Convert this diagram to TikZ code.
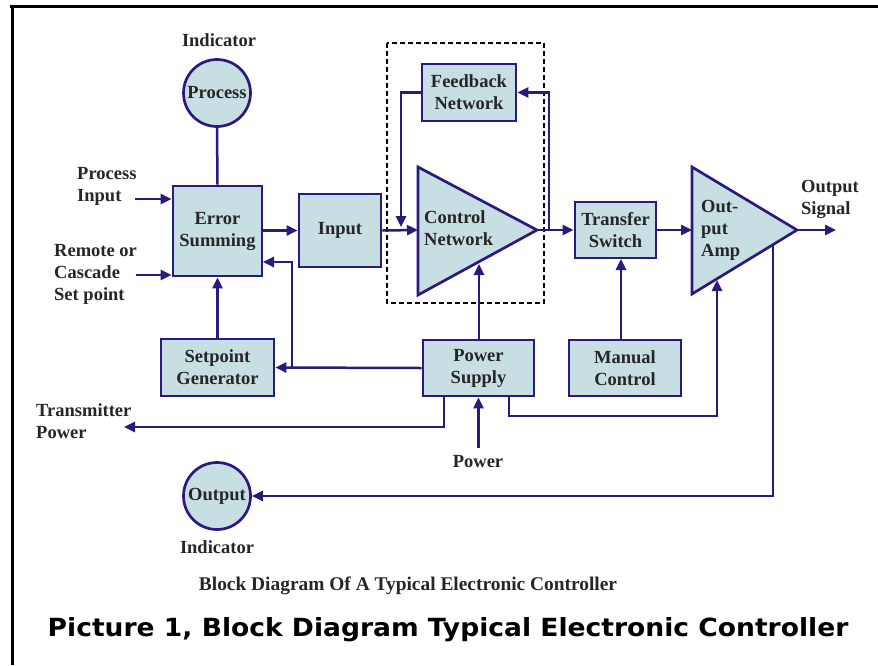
\documentclass[tikz,border=0pt]{standalone}
\usepackage{fontspec}
\setmainfont{Liberation Serif}
\newfontfamily\capfont{DejaVu Sans}
\usetikzlibrary{arrows.meta}
\definecolor{ln}{HTML}{2B1A7E}
\definecolor{fl}{HTML}{C7DEE2}
\definecolor{tx}{HTML}{262626}
\begin{document}
\begin{tikzpicture}[x=1pt,y=-1pt,
  lblfont/.style={font=\bfseries\fontsize{18.5}{22}\selectfont, text=tx},
  blk/.style={draw=ln, fill=fl, line width=2.7pt, inner sep=0pt, align=center, lblfont},
  circ/.style={circle, draw=ln, fill=fl, line width=2.7pt, minimum size=67pt, inner sep=0pt, lblfont},
  tri/.style={draw=ln, fill=fl, line width=2.7pt, line join=miter},
  lbl/.style={inner sep=0pt, align=left, lblfont},
  con/.style={draw=ln, line width=2.5pt},
  arr/.style={con, -{Triangle[length=11pt,width=10pt]}},
  frame/.style={draw=black, line width=3pt},
  dbox/.style={draw=black, line width=1.8pt, dash pattern=on 5pt off 3pt},
]
\useasboundingbox (0,0) rectangle (878,665);
% frame (top and left edges)
\draw[frame] (10,6) -- (878,6);
\draw[frame] (12,4.5) -- (12,665);

% dashed enclosure
\draw[dbox] (387,43) rectangle (544,303);

% triangles
\draw[tri] (418,167) -- (537,230) -- (418,295) -- cycle;
\draw[tri] (692,167) -- (797,230) -- (692,294) -- cycle;
\node[lbl, anchor=west] (cnt) at (424,228) {Control\\Network};
\node[lbl, anchor=west] (oat) at (701,230) {Out-\\put\\Amp};

% blocks
\node[blk, minimum width=89pt, minimum height=90pt] (es) at (217.5,231) {Error\\Summing};
\node[blk, minimum width=82pt, minimum height=73pt] (inp) at (340,230.5) {Input};
\node[blk, minimum width=94pt, minimum height=57pt] (fb) at (469,92.5) {Feedback\\Network};
\node[blk, minimum width=81pt, minimum height=56pt] (ts) at (615.5,230) {Transfer\\Switch};
\node[blk, minimum width=113pt, minimum height=57pt] (sg) at (217.5,367.5) {Setpoint\\Generator};
\node[blk, minimum width=111pt, minimum height=56pt] (ps) at (478.5,368) {Power\\Supply};
\node[blk, minimum width=112pt, minimum height=56pt] (mc) at (625,368) {Manual\\Control};

% indicators
\node[circ] (pi) at (217,93) {Process};
\node[circ] (oi) at (217,496) {Output};
\node[lbl] (pil) at (219,40) {Indicator};
\node[lbl] (oil) at (217,547) {Indicator};

% external labels
\node[lbl, anchor=west] (pinl) at (77,186) {Process\\Input};
\node[lbl, anchor=west] (rinl) at (54,274) {Remote or\\Cascade\\Set point};
\node[lbl, anchor=west] (tpl) at (36,421) {Transmitter\\Power};
\node[lbl] (pwl) at (478,462) {Power};
\node[lbl, anchor=west] (osl) at (801,199) {Output\\Signal};

% named points
\coordinate (pin) at (135,199);
\coordinate (rin) at (136,275);
\coordinate (cnl) at (418,230);
\coordinate (cntip) at (537,230);
\coordinate (br) at (549,230);
\coordinate (fbd) at (401,227);
\coordinate (cnb) at (479,264);
\coordinate (oal) at (692,230);
\coordinate (oatip) at (797,230);
\coordinate (osig) at (836,230);
\coordinate (mct) at (621,339);
\coordinate (tsb) at (621,259);
\coordinate (fbk) at (292,368);
\coordinate (esr) at (263,262);
\coordinate (pst) at (444,397);
\coordinate (tp) at (124,427);
\coordinate (psa) at (509,397);
\coordinate (psb) at (509,416);
\coordinate (oab) at (717,280);
\coordinate (pw) at (478.5,448);
\coordinate (oae) at (773,246);

% connectors
\draw[con] (pi.south) -- (es.north);
\draw[arr] (pin) -- (pin -| es.west);
\draw[arr] (rin) -- (rin -| es.west);
\draw[arr] (es.east |- inp.west) -- (inp.west);
\draw[arr] (inp.east) -- (cnl);
\draw[arr] (fb.west) -| (fbd);
\draw[arr] (cntip) -- (ts.west);
\draw[arr] (br) |- (fb.east);
\draw[arr] (ps.north -| cnb) -- (cnb);
\draw[arr] (ts.east) -- (oal);
\draw[arr] (oatip) -- (osig);
\draw[arr] (mct) -- (tsb);
\draw[arr] (ps.west) -- (sg.east);
\draw[arr] (fbk) |- (esr);
\draw[arr] (sg.north) -- (es.south);
\draw[arr] (pst) |- (tp);
\draw[arr] (psa) -- (psb) -| (oab);
\draw[arr] (pw) -- (ps.south);
\draw[arr] (oae) |- (oi.east);

% captions
\node[inner sep=0pt, font=\bfseries\fontsize{19.4}{22}\selectfont, text=tx] (cap1) at (408,586) {Block Diagram Of A Typical Electronic Controller};
\node[inner sep=0pt, font=\capfont\bfseries\fontsize{25}{28}\selectfont, text=black] (cap2) at (448,630) {\scalebox{1.062}[1]{Picture 1, Block Diagram Typical Electronic Controller}};
\end{tikzpicture}
\end{document}
